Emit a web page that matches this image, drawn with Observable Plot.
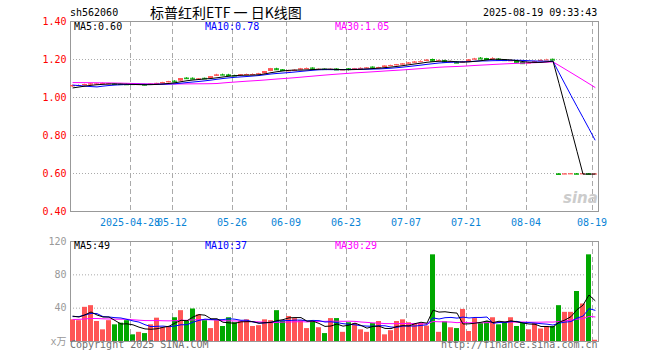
<!DOCTYPE html>
<html><head><meta charset="utf-8">
<script src="https://cdn.jsdelivr.net/npm/d3@7"></script>
<script src="https://cdn.jsdelivr.net/npm/@observablehq/plot@0.6"></script>
<style>
body{margin:0;background:#fff;}
#wrap{position:relative;width:660px;height:360px;overflow:hidden;background:#fff;font-family:"DejaVu Sans Mono",monospace;font-size:10px;}
#wrap svg{position:absolute;left:0;}
.t{position:absolute;white-space:pre;line-height:12px;}
</style></head><body><div id="wrap"></div>
<script>
const code = "sh562060";
const title = "标普红利ETF 一 日K线图";
const stamp = "2025-08-19 09:33:43";

const dates = ["04-14","04-15","04-16","04-17","04-18","04-21","04-22","04-23","04-24","04-25","04-28","04-29","04-30",
"05-06","05-07","05-08","05-09","05-12","05-13","05-14","05-15","05-16","05-19","05-20","05-21","05-22","05-23","05-26","05-27","05-28","05-29","05-30",
"06-03","06-04","06-05","06-06","06-09","06-10","06-11","06-12","06-13","06-16","06-17","06-18","06-19","06-20","06-23","06-24","06-25","06-26","06-27","06-30",
"07-01","07-02","07-03","07-04","07-07","07-08","07-09","07-10","07-11","07-14","07-15","07-16","07-17","07-18","07-21","07-22","07-23","07-24","07-25","07-28","07-29","07-30","07-31",
"08-01","08-04","08-05","08-06","08-07","08-08","08-11","08-12","08-13","08-14","08-15","08-18","08-19"];

const open = [1.056,1.060,1.062,1.066,1.069,1.070,1.070,1.072,1.070,1.069,
1.069,1.067,1.068,1.065,1.071,1.074,1.078,1.086,1.086,1.102,
1.101,1.094,1.101,1.100,1.112,1.120,1.119,1.116,1.114,1.117,
1.119,1.121,1.124,1.137,1.151,1.146,1.138,1.139,1.145,1.149,
1.155,1.146,1.149,1.146,1.150,1.143,1.151,1.148,1.151,1.152,
1.160,1.154,1.158,1.165,1.168,1.172,1.177,1.182,1.186,1.190,
1.200,1.192,1.194,1.186,1.187,1.184,1.189,1.199,1.207,1.205,
1.203,1.202,1.199,1.193,1.194,1.184,1.180,1.184,1.192,1.197,
1.201,0.598,0.595,0.596,0.599,0.596,0.599,0.596];

const close = [1.063,1.063,1.068,1.071,1.071,1.073,1.072,1.069,1.068,1.067,
1.068,1.068,1.065,1.070,1.074,1.078,1.083,1.082,1.099,1.099,
1.097,1.097,1.098,1.109,1.118,1.118,1.116,1.113,1.119,1.121,
1.121,1.124,1.136,1.151,1.146,1.142,1.140,1.143,1.150,1.152,
1.150,1.148,1.147,1.148,1.145,1.145,1.147,1.151,1.153,1.155,
1.156,1.157,1.165,1.168,1.172,1.176,1.181,1.186,1.188,1.196,
1.191,1.193,1.186,1.187,1.181,1.186,1.197,1.202,1.203,1.200,
1.204,1.197,1.194,1.193,1.183,1.178,1.181,1.188,1.195,1.197,
1.197,0.595,0.597,0.598,0.596,0.598,0.596,0.597];

const high = [1.065,1.066,1.070,1.073,1.073,1.076,1.074,1.073,1.071,1.071,
1.071,1.070,1.069,1.071,1.075,1.080,1.085,1.088,1.100,1.104,
1.103,1.099,1.102,1.110,1.122,1.123,1.122,1.117,1.120,1.123,
1.124,1.127,1.137,1.153,1.154,1.147,1.143,1.145,1.153,1.155,
1.156,1.150,1.150,1.150,1.151,1.147,1.152,1.153,1.156,1.157,
1.161,1.159,1.166,1.170,1.174,1.178,1.184,1.189,1.193,1.199,
1.202,1.197,1.196,1.191,1.188,1.190,1.200,1.206,1.210,1.206,
1.209,1.204,1.200,1.197,1.195,1.185,1.185,1.191,1.198,1.201,
1.202,0.599,0.598,0.599,0.600,0.599,0.600,0.598];

const low = [1.054,1.058,1.061,1.064,1.067,1.069,1.068,1.067,1.066,1.066,
1.066,1.066,1.062,1.064,1.070,1.073,1.077,1.080,1.085,1.096,
1.095,1.092,1.096,1.099,1.111,1.115,1.113,1.111,1.112,1.116,
1.118,1.120,1.123,1.136,1.143,1.140,1.136,1.138,1.144,1.148,
1.148,1.145,1.145,1.145,1.144,1.142,1.140,1.147,1.150,1.151,
1.154,1.153,1.157,1.164,1.167,1.171,1.176,1.181,1.185,1.189,
1.190,1.190,1.182,1.185,1.180,1.183,1.188,1.198,1.202,1.199,
1.202,1.196,1.193,1.192,1.182,1.177,1.179,1.183,1.191,1.196,
1.196,0.594,0.594,0.595,0.595,0.595,0.595,0.595];

const volume = [26,25,41,43,24,14,25,20,22,25,
8,11,9.5,20,28,16.5,17.5,28.5,37,25,
39,32,25,15.5,25,18,28.5,22.5,24,26,
18,19,26,25,37,24,30,27.5,25,15.5,
24,16.5,9.5,27.5,27.5,11,22.5,21.5,14,11,
21.5,24,8,13,24,26,22.5,21.5,21.5,18.5,
104,11,23.5,16.5,15.5,38.5,12,27.5,21.5,24,
28.5,20,23,28.5,18,21.5,14,21.5,15,18,
18,43,35,35,60,45,104,1.5];

// closes and volumes of the 29 sessions before the first visible day (feed the moving averages)
const priorClose = [1.070,1.075,1.080,1.080,1.085,1.085,1.090,1.085,1.090,1.095,
1.095,1.090,1.090,1.085,1.080,1.085,1.080,1.085,1.090,1.090,
1.090,1.095,1.095,1.090,1.030,1.040,1.045,1.050,1.055];
const priorVolume = [22,25,28,24,26,30,27,24,25,28,
26,23,22,25,24,21,23,22,26,24,
25,22,24,26,50,30,28,26,42];

const tickDates = ["04-28","05-12","05-26","06-09","06-23","07-07","07-21","08-04","08-19"];
const tickLabels = ["2025-04-28","05-12","05-26","06-09","06-23","07-07","07-21","08-04","08-19"];
const priceTicks = [0.4,0.6,0.8,1.0,1.2,1.4];
const volumeTicks = [0,40,80,120];
const maPeriods = [5,10,30];
const maColors = ["#000000","#0000ff","#ff00ff"];

const RED = "#ff5555", GREEN = "#00a800";
const FONT = '"DejaVu Sans Mono", "Noto Sans CJK SC", monospace';

const bars = dates.map((d,i)=>({date:d, open:open[i], close:close[i], high:high[i], low:low[i], volume:volume[i], up: close[i] >= open[i]}));
function ma(prior, vals, n){
  const all = prior.concat(vals);
  return vals.map((_,i)=>{ const j = i + prior.length; return d3.mean(all.slice(j-n+1, j+1)); });
}
const priceMA = maPeriods.map(n => ma(priorClose, close, n));
const volMA = maPeriods.map(n => ma(priorVolume, volume, n));
const lineData = arr => dates.map((d,i)=>({date:d, v:arr[i]}));
const col = d => d.up ? RED : GREEN;

const xScale = {type:"band", domain:dates, range:[70,597], paddingInner:1/6, paddingOuter:0};

const price = Plot.plot({
  width:660, height:230, marginLeft:70, marginRight:62, marginTop:21, marginBottom:19,
  style:{fontFamily:FONT, fontSize:"10px", background:"transparent"},
  x:{...xScale, label:null},
  y:{domain:[0.4,1.4], label:null},
  marks:[
    Plot.ruleY(priceTicks.slice(1,-1), {stroke:"#aaaaaa", strokeDasharray:"1,2"}),
    Plot.ruleX(tickDates, {x:d=>d, stroke:"#aaaaaa", strokeDasharray:"5,3", dx:-2.5}),
    Plot.frame({stroke:"#999999"}),
    Plot.axisY({ticks:priceTicks, tickFormat:d=>d.toFixed(2), tickSize:0, tickPadding:4, fill:"#ff0000", label:null}),
    Plot.axisX({ticks:tickDates, tickFormat:d=>tickLabels[tickDates.indexOf(d)], tickSize:0, tickPadding:7.5, fill:"#0a84d6", dx:-3, label:null}),
    Plot.ruleX(bars, {x:"date", y1:"low", y2:"high", stroke:col, dx:-0.5}),
    Plot.barY(bars, {x:"date", y1:"open", y2:"close", fill:col}),
    Plot.tickY(bars, {x:"date", y:"close", stroke:col}),
    ...[2,1,0].map(k => Plot.line(lineData(priceMA[k]), {x:"date", y:"v", stroke:maColors[k], strokeWidth:1}))
  ]
});
price.style.top = "0px";

const vol = Plot.plot({
  width:660, height:130, marginLeft:70, marginRight:62, marginTop:11, marginBottom:19,
  style:{fontFamily:FONT, fontSize:"10px", background:"transparent"},
  x:{...xScale, axis:null, label:null},
  y:{domain:[0,120], label:null},
  marks:[
    Plot.ruleY([40,80], {stroke:"#aaaaaa", strokeDasharray:"1,2"}),
    Plot.ruleX(tickDates, {x:d=>d, stroke:"#aaaaaa", strokeDasharray:"5,3", dx:-2.5}),
    Plot.frame({stroke:"#999999"}),
    Plot.axisY({ticks:volumeTicks, tickFormat:d=>d===0 ? "x万" : String(d), tickSize:0, tickPadding:4, fill:"#999999", label:null}),
    Plot.barY(bars, {x:"date", y:"volume", fill:col}),
    ...[2,1,0].map(k => Plot.line(lineData(volMA[k]), {x:"date", y:"v", stroke:maColors[k], strokeWidth:1}))
  ]
});
vol.style.top = "230px";

const wrap = document.getElementById("wrap");
wrap.appendChild(price);
wrap.appendChild(vol);

function txt(s, left, top, color, extra){
  const el = document.createElement("div");
  el.className = "t"; el.textContent = s;
  el.style.left = left + "px"; el.style.top = top + "px"; el.style.color = color;
  if (extra) Object.assign(el.style, extra);
  wrap.appendChild(el);
  return el;
}
const last = dates.length - 1;
txt(code, 70, 7, "#000");
txt(title, 150, 5, "#000", {fontFamily:'"Noto Sans CJK SC", sans-serif', fontSize:"14px", lineHeight:"15px"});
txt(stamp, 483, 7, "#000");
txt("MA5:" + priceMA[0][last].toFixed(2), 74, 21, maColors[0]);
txt("MA10:" + priceMA[1][last].toFixed(2), 205, 21, maColors[1]);
txt("MA30:" + priceMA[2][last].toFixed(2), 335, 21, maColors[2]);
txt("MA5:" + Math.round(volMA[0][last]), 74, 240, maColors[0]);
txt("MA10:" + Math.round(volMA[1][last]), 205, 240, maColors[1]);
txt("MA30:" + Math.round(volMA[2][last]), 335, 240, maColors[2]);
txt("Copyright 2025 SINA.COM", 70, 339, "#707070");
txt("http://finance.sina.com.cn", 441, 339, "#707070");
txt("sina", 563, 189, "#cccccc", {fontFamily:"'DejaVu Sans', sans-serif", fontSize:"15px", fontStyle:"italic", fontWeight:"bold", lineHeight:"18px"});
</script></body></html>
